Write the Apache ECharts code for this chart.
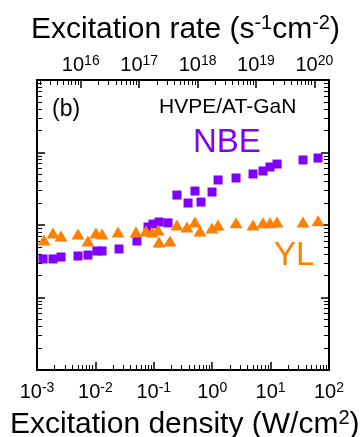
<!DOCTYPE html>
<html>
<head>
<meta charset="utf-8">
<script src="https://cdn.jsdelivr.net/npm/echarts@6/dist/echarts.min.js"></script>
<style>
  html, body { margin: 0; padding: 0; background: #fff; }
  #chart { width: 360px; height: 437px; }
</style>
</head>
<body>
<div id="chart"></div>
<script>
// excitation density (W/cm^2) and PL intensity (arb. units)
const nbeDensity = [0.00127, 0.00188, 0.00258, 0.00504, 0.00746, 0.0106, 0.0130, 0.0254, 0.0515, 0.0796,
  0.0968, 0.123, 0.175, 0.249, 0.386, 0.507, 0.643, 0.993, 1.26, 2.56, 5.0, 7.41, 9.77, 12.9, 35.9, 64.9];
const nbeIntensity = [34.0, 34.0, 36.2, 37.4, 38.5, 43.8, 43.8, 46.7, 60.2, 93.8,
  103, 110, 107, 259, 201, 294, 207, 285, 418, 445, 505, 556, 631, 693, 789, 839];

const ylDensity = [0.00132, 0.00188, 0.00258, 0.00504, 0.00746, 0.0102, 0.0130, 0.0244, 0.0495, 0.0734,
  0.0931, 0.118, 0.123, 0.189, 0.249, 0.370, 0.507, 0.618, 0.993, 1.26, 2.56, 5.0, 7.41, 9.77, 12.9, 35.9, 64.9];
const ylIntensity = [62.1, 77.6, 70.5, 75.2, 60.2, 77.6, 75.2, 80.0, 80.0, 82.6,
  80.0, 85.3, 58.3, 60.2, 100, 93.8, 110, 82.6, 91.0, 100, 107, 100, 107, 107, 110, 110, 114];

const densityRange = [1e-3, 1e2];
const intensityRange = [1, 1e4];
const ratePerDensity = 1.78e18; // top axis: photons s^-1 cm^-2 per W/cm^2
const rateTicks = [1e16, 1e17, 1e18, 1e19, 1e20];

const PURPLE = "#7f00ff";
const ORANGE = "#ff8000";
const FONT = "Liberation Sans";

const powLabel = (v) => "{b|10}{s|" + Math.round(Math.log10(v)) + "}";
const powRich = {
  b: { fontSize: 20, fontFamily: FONT, color: "#000" },
  s: { fontSize: 14, fontFamily: FONT, color: "#000", padding: [0, 0, 9, 0] },
};
const titleRich = {
  m: { fontSize: 30, fontWeight: "normal", fontFamily: FONT, color: "#000" },
  s: { fontSize: 20, fontWeight: "normal", fontFamily: FONT, color: "#000", padding: [0, 0, 13, 0] },
};
const line = () => ({ show: true, onZero: false, lineStyle: { color: "#000", width: 2 } });
const majorTick = () => ({ show: true, inside: true, length: 8, lineStyle: { color: "#000", width: 1.5 } });

// minor log ticks (2..9 x 10^n): one plain value axis (in log10 units) per multiplier k,
// so each axis only carries one tick per decade
function minorAxes(position, lo, hi) {
  const a = Math.log10(lo), b = Math.log10(hi);
  const axes = [];
  for (let k = 2; k <= 9; k++) {
    const vals = [];
    for (let e = Math.floor(a) - 1; e <= Math.ceil(b); e++) {
      const t = e + Math.log10(k);
      if (t > a && t < b) vals.push(t);
    }
    axes.push({
      type: "value", position: position, min: a, max: b,
      axisLine: { show: false, onZero: false }, axisLabel: { show: false }, splitLine: { show: false },
      axisTick: { show: true, inside: true, length: 5, customValues: vals, lineStyle: { color: "#000" } },
    });
  }
  return axes;
}

const rateRange = [densityRange[0] * ratePerDensity, densityRange[1] * ratePerDensity];

const option = {
  animation: false,
  backgroundColor: "#fff",
  grid: { left: 37, right: 31, top: 80, bottom: 67 },
  title: [
    { text: "{m|Excitation rate (s}{s|-1}{m|cm}{s|-2}{m|)}", left: 31, top: 13, padding: 0, textStyle: { fontWeight: "normal", rich: titleRich } },
    { text: "{m|Excitation density (W/cm}{s|2}{m|)}", left: 10, top: 408, padding: 0, textStyle: { fontWeight: "normal", rich: titleRich } },
    { text: "(b)", left: 52, top: 98, padding: 0, textStyle: { fontSize: 23, fontWeight: "normal", fontFamily: FONT, color: "#000" } },
    { text: "HVPE/AT-GaN", left: 159, top: 97, padding: 0, textStyle: { fontSize: 21, fontWeight: "normal", fontFamily: FONT, color: "#000" } },
    { text: "NBE", left: 193, top: 126, padding: 0, textStyle: { fontSize: 33, fontWeight: "normal", fontFamily: FONT, color: PURPLE } },
    { text: "YL", left: 274, top: 239, padding: 0, textStyle: { fontSize: 33, fontWeight: "normal", fontFamily: FONT, color: ORANGE } },
  ],
  xAxis: [
    {
      type: "log", position: "bottom", min: densityRange[0], max: densityRange[1],
      axisLine: line(), axisTick: majorTick(), splitLine: { show: false },
      axisLabel: { margin: 11, formatter: powLabel, rich: powRich },
    },
    {
      type: "log", position: "top", min: rateRange[0], max: rateRange[1],
      axisLine: line(), axisTick: Object.assign(majorTick(), { customValues: rateTicks }), splitLine: { show: false },
      axisLabel: { margin: 3, customValues: rateTicks, formatter: powLabel, rich: powRich },
    },
  ].concat(minorAxes("bottom", densityRange[0], densityRange[1]), minorAxes("top", rateRange[0], rateRange[1])),
  yAxis: [
    { type: "log", position: "left", min: intensityRange[0], max: intensityRange[1], axisLine: line(), axisTick: majorTick(), axisLabel: { show: false }, splitLine: { show: false } },
    { type: "log", position: "right", min: intensityRange[0], max: intensityRange[1], axisLine: line(), axisTick: majorTick(), axisLabel: { show: false }, splitLine: { show: false } },
  ].concat(minorAxes("left", intensityRange[0], intensityRange[1]), minorAxes("right", intensityRange[0], intensityRange[1])),
  series: [
    {
      name: "NBE", type: "scatter", xAxisIndex: 0, yAxisIndex: 0,
      symbol: "rect", symbolSize: 9, itemStyle: { color: PURPLE, opacity: 1 },
      data: nbeDensity.map((x, i) => [x, nbeIntensity[i]]),
    },
    {
      name: "YL", type: "scatter", xAxisIndex: 0, yAxisIndex: 0,
      symbol: "triangle", symbolSize: [13, 11], itemStyle: { color: ORANGE, opacity: 1 },
      data: ylDensity.map((x, i) => [x, ylIntensity[i]]),
    },
  ],
};

const chart = echarts.init(document.getElementById("chart"), null, { renderer: "canvas" });
chart.setOption(option);
</script>
</body>
</html>
